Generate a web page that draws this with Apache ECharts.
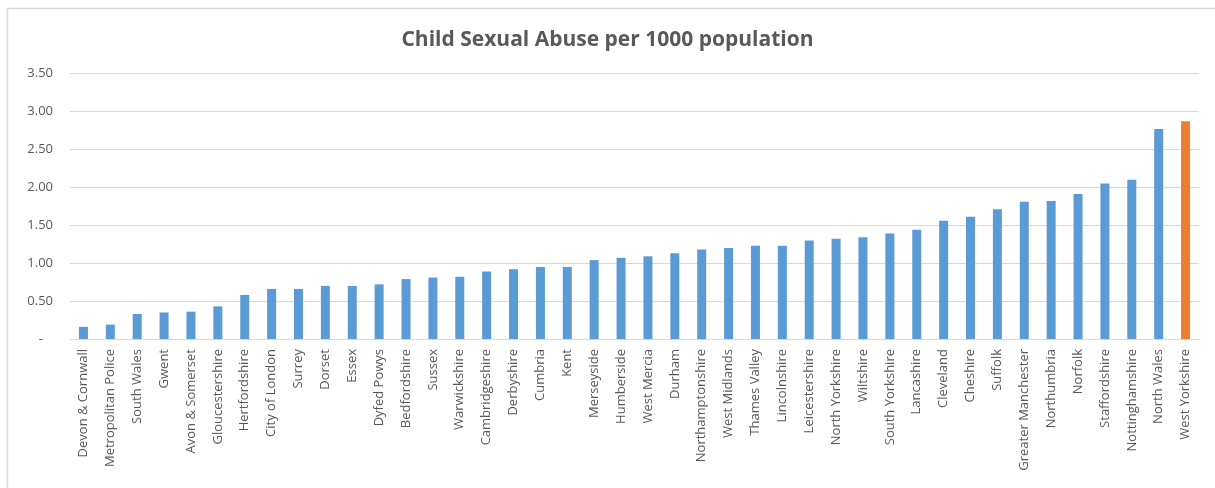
<!DOCTYPE html>
<html>
<head>
<meta charset="utf-8">
<script src="https://cdn.jsdelivr.net/npm/echarts@6/dist/echarts.min.js"></script>
<style>
  html, body { margin: 0; padding: 0; background: #ffffff; }
  #chart { width: 1215px; height: 488px; }
</style>
</head>
<body>
<div id="chart"></div>
<script>
// Police force areas, sorted by rate
const forces = [
  'Devon & Cornwall', 'Metropolitan Police', 'South Wales', 'Gwent', 'Avon & Somerset',
  'Gloucestershire', 'Hertfordshire', 'City of London', 'Surrey', 'Dorset', 'Essex',
  'Dyfed Powys', 'Bedfordshire', 'Sussex', 'Warwickshire', 'Cambridgeshire', 'Derbyshire',
  'Cumbria', 'Kent', 'Merseyside', 'Humberside', 'West Mercia', 'Durham',
  'Northamptonshire', 'West Midlands', 'Thames Valley', 'Lincolnshire', 'Leicestershire',
  'North Yorkshire', 'Wiltshire', 'South Yorkshire', 'Lancashire', 'Cleveland', 'Cheshire',
  'Suffolk', 'Greater Manchester', 'Northumbria', 'Norfolk', 'Staffordshire',
  'Nottinghamshire', 'North Wales', 'West Yorkshire'
];

// Recorded child sexual abuse offences per 1000 population
const ratePer1000 = [
  0.16, 0.19, 0.33, 0.35, 0.36,
  0.43, 0.58, 0.66, 0.66, 0.70, 0.70,
  0.72, 0.79, 0.81, 0.82, 0.89, 0.92,
  0.95, 0.95, 1.04, 1.07, 1.09, 1.13,
  1.18, 1.20, 1.23, 1.23, 1.30,
  1.32, 1.34, 1.39, 1.44, 1.56, 1.61,
  1.71, 1.81, 1.82, 1.91, 2.05,
  2.10, 2.77, 2.87
];

const highlighted = 'West Yorkshire';
const yTicks = { min: 0, max: 3.5, step: 0.5 };

const BLUE = '#5B9BD5';
const ORANGE = '#ED7D31';
const TEXT = '#595959';
const GRID = '#D9D9D9';
const FONT = 'Open Sans, Noto Sans, sans-serif';

const chart = echarts.init(document.getElementById('chart'), null, { renderer: 'canvas' });

chart.setOption({
  backgroundColor: '#ffffff',
  animation: false,
  textStyle: { fontFamily: FONT },
  graphic: [{
    type: 'rect',
    shape: { x: 7.5, y: 8.5, width: 1220, height: 500 },
    style: { fill: 'none', stroke: GRID, lineWidth: 1.5 },
    silent: true
  }],
  title: {
    text: 'Child Sexual Abuse per 1000 population',
    left: 'center',
    top: 25,
    textStyle: {
      fontFamily: FONT,
      fontSize: 21,
      fontWeight: 'bold',
      color: TEXT
    }
  },
  grid: { left: 70, right: 16, top: 73.5, bottom: 149, containLabel: false },
  xAxis: {
    type: 'category',
    data: forces,
    axisLine: { show: true, lineStyle: { color: GRID, width: 1 } },
    axisTick: { show: false },
    axisLabel: {
      interval: 0,
      rotate: 90,
      margin: 10,
      fontSize: 13,
      color: TEXT,
      fontFamily: FONT
    }
  },
  yAxis: {
    type: 'value',
    min: yTicks.min,
    max: yTicks.max,
    interval: yTicks.step,
    axisLine: { show: false },
    axisTick: { show: false },
    splitLine: { lineStyle: { color: GRID, width: 1 } },
    axisLabel: {
      margin: 17,
      fontSize: 13,
      color: TEXT,
      fontFamily: FONT,
      formatter: v => (v === 0 ? '-   ' : v.toFixed(2))
    }
  },
  series: [{
    type: 'bar',
    barWidth: 9,
    data: ratePer1000.map((v, i) => ({
      value: v,
      itemStyle: { color: forces[i] === highlighted ? ORANGE : BLUE }
    }))
  }]
});
</script>
</body>
</html>
